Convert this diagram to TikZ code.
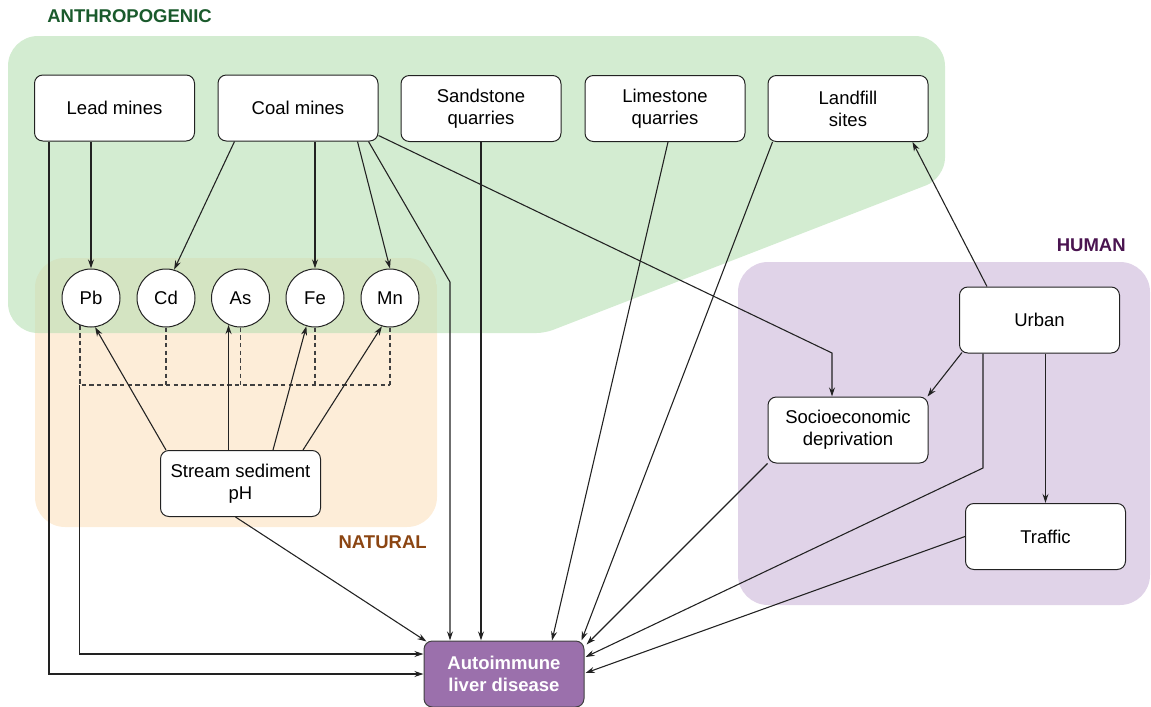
\documentclass[tikz,border=0pt]{standalone}
\usepackage{fontspec}
\setmainfont{Liberation Sans}
\usetikzlibrary{arrows.meta,calc}
\definecolor{anthfill}{HTML}{D3ECD1}
\definecolor{natfill}{HTML}{FDEDD8}
\definecolor{overfill}{HTML}{D4E4C2}
\definecolor{humfill}{HTML}{E0D3E8}
\definecolor{aldfill}{HTML}{9B70AC}
\definecolor{anthtxt}{HTML}{1A5A2C}
\definecolor{nattxt}{HTML}{8B4512}
\definecolor{humtxt}{HTML}{4A1450}
\definecolor{edgecol}{HTML}{222222}
\begin{document}
\begin{tikzpicture}[x=0.6pt,y=-0.6pt,
  box/.style={draw=edgecol, line width=0.6pt, fill=white, rounded corners=5pt,
    minimum width=96pt, minimum height=39.6pt, inner sep=0pt, align=center,
    font=\fontsize{11.1}{13.2}\selectfont},
  metal/.style={draw=edgecol, line width=0.6pt, fill=white, circle,
    minimum size=34.8pt, inner sep=0pt, font=\fontsize{11.1}{13.2}\selectfont},
  target/.style={box, fill=aldfill, draw=black!75, text=white,
    font=\bfseries\fontsize{11.1}{13.2}\selectfont},
  lab/.style={inner sep=0pt, font=\bfseries\fontsize{11.1}{13}\selectfont},
  arr/.style={draw=edgecol, line width=0.65pt, -{Stealth[length=5.5pt,width=3.6pt]}},
  thickarr/.style={arr, line width=1.15pt},
  corr/.style={draw=black!75, line width=0.75pt, dash pattern=on 2.7pt off 1.9pt}]
\useasboundingbox (0,0) rectangle (1151,707);
% regions
\fill[natfill, rounded corners=18pt] (35,258) rectangle (437,527);
\fill[anthfill] (8,200) [rounded corners=18pt] -- (8,36) -- (945,36)
  [rounded corners=12pt] -- (945,178) [rounded corners=5pt] -- (545,333)
  [rounded corners=18pt] -- (8,333) [sharp corners] -- cycle;
\begin{scope}
  \clip[rounded corners=18pt] (35,258) rectangle (437,527);
  \fill[overfill] (35,258) rectangle (437,333);
\end{scope}
\fill[humfill, rounded corners=18pt] (738,262) rectangle (1150,605);
% region labels
\node[lab, text=anthtxt, anchor=west] (lanth) at (47,16) {ANTHROPOGENIC};
\node[lab, text=humtxt, anchor=east] (lhum) at (1126,245) {HUMAN};
\node[lab, text=nattxt, anchor=east] (lnat) at (427,542) {NATURAL};
% nodes
\node[box] (lead) at (114.5,108) {Lead mines};
\node[box] (coal) at (298,108) {Coal mines};
\node[box] (sand) at (481,108.5) {Sandstone\\quarries};
\node[box] (lime) at (665,108.5) {Limestone\\quarries};
\node[box] (land) at (848,108.5) {Landfill\\sites};
\node[metal] (Pb) at (91,298) {Pb};
\node[metal] (Cd) at (166,298) {Cd};
\node[metal] (As) at (240.5,298) {As};
\node[metal] (Fe) at (315,298) {Fe};
\node[metal] (Mn) at (390,298) {Mn};
\node[box] (ss) at (240.5,483.5) {Stream sediment\\pH};
\node[box] (urban) at (1039.5,320) {Urban};
\node[box] (socio) at (848,430) {Socioeconomic\\deprivation};
\node[box] (traffic) at (1045.5,536.5) {Traffic};
\node[target] (ald) at (504,674) {Autoimmune\\liver disease};
% helper coordinates
\coordinate (bar) at (80,385);
\coordinate (cbend) at (450,282);
\coordinate (sbend) at (832,353);
\coordinate (ubend) at (983,468);
% correlation among metals
\draw[corr] (Pb.-112) -- (Pb.-112 |- bar) -- (Mn.south |- bar);
\draw[corr] (Cd.south) -- (Cd.south |- bar);
\draw[corr] (As.south) -- (As.south |- bar);
\draw[corr] (Fe.south) -- (Fe.south |- bar);
\draw[corr] (Mn.south) -- (Mn.south |- bar);
\draw[arr] (Pb.-112 |- bar) |- ($(ald.west)+(0,-20)$);
% lead mines
\draw[arr] ($(lead.south west)+(15,0)$) |- (ald.west);
\draw[thickarr] (Pb.north |- lead.south) -- (Pb.north);
% coal mines
\draw[arr] ($(coal.south west)+(17,0)$) -- (Cd.74);
\draw[thickarr] (Fe.north |- coal.south) -- (Fe.north);
\draw[arr] ($(coal.south east)+(-21,0)$) -- (Mn.north);
\draw[arr] ($(coal.south east)+(-10,0)$) -- (cbend) -- (cbend |- ald.north);
\draw[arr] ($(coal.south east)+(0,-6)$) -- (sbend) -- (sbend |- socio.north);
% quarries and landfill
\draw[thickarr] (sand.south) -- (sand.south |- ald.north);
\draw[arr] ($(lime.south)+(3,0)$) -- ($(ald.north)+(48,0)$);
\draw[arr] ($(land.south west)+(5,0)$) -- ($(ald.north east)+(-3,0)$);
% stream sediment
\draw[arr] ($(ss.north west)+(6,0)$) -- (Pb.-82);
\draw[thickarr] (As.-114 |- ss.north) -- (As.-114);
\draw[arr] ($(ss.north)+(32.5,0)$) -- (Fe.-107);
\draw[arr] ($(ss.north)+(62.5,0)$) -- (Mn.-106);
\draw[arr] ($(ss.south)+(-5,0)$) -- ($(ald.north west)+(3,1)$);
% human
\draw[arr] ($(urban.north west)+(28,0)$) -- ($(land.south east)+(-16,0)$);
\draw[arr] ($(urban.south west)+(3,-1)$) -- ($(socio.north east)+(-1,0)$);
\draw[thickarr] (traffic.north |- urban.south) -- (traffic.north);
\draw[arr] ($(urban.south west)+(24,0)$) -- (ubend) -- ($(ald.east)+(1,-17)$);
\draw[arr] (socio.south west) -- ($(ald.north east)+(2,4)$);
\draw[arr] (traffic.west) -- ($(ald.east)+(1,-1)$);
\end{tikzpicture}
\end{document}
